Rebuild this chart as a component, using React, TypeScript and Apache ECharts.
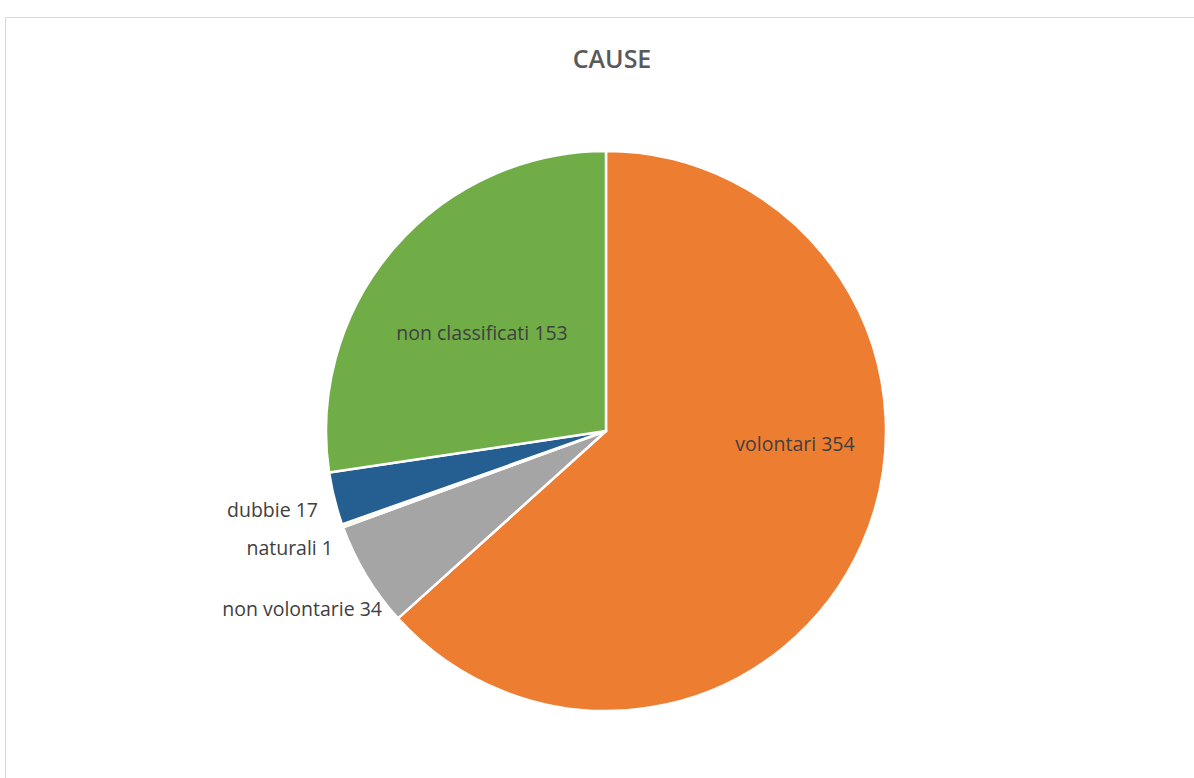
import React, { useEffect, useRef } from "react";
import * as echarts from "echarts";

const title = "CAUSE";
const categories = ["volontari", "non volontarie", "naturali", "dubbie", "non classificati"];
const values = [354, 34, 1, 17, 153];
const colors = ["#ED7D31", "#A5A5A5", "#FFE699", "#255E91", "#70AD47"];
// label anchor (x, y, align) per slice, in page pixels
const labelAnchors: [number, number, string][] = [
  [795, 443, "center"],
  [382, 608, "right"],
  [333, 547, "right"],
  [318, 509, "right"],
  [482, 332, "center"],
];

export default function App() {
  const ref = useRef<HTMLDivElement>(null);
  useEffect(() => {
    document.body.style.margin = "0";
    const chart = echarts.init(ref.current!, null, { renderer: "svg" });
    chart.setOption({
      animation: false,
      backgroundColor: "#ffffff",
      title: {
        text: title,
        left: 607,
        top: 40,
        textAlign: "center",
        textStyle: { fontFamily: "Open Sans", fontSize: 25, fontWeight: 600, color: "#595959" },
      },
      graphic: [
        {
          type: "rect",
          shape: { x: 5.5, y: 17.5, width: 1300, height: 900 },
          style: { fill: "none", stroke: "#d9d9d9", lineWidth: 1 },
          silent: true,
        },
      ],
      series: [
        {
          type: "pie",
          center: [606, 431],
          radius: 280,
          startAngle: 90,
          clockwise: true,
          itemStyle: { borderColor: "#ffffff", borderWidth: 2.5 },
          label: {
            show: true,
            position: "inside",
            formatter: "{b} {c}",
            fontFamily: "Open Sans",
            fontSize: 19.5,
            color: "#404040",
          },
          labelLine: { show: false },
          labelLayout: (p: any) => {
            const a = labelAnchors[p.dataIndex];
            return { x: a[0], y: a[1], align: a[2], verticalAlign: "middle", hideOverlap: false };
          },
          data: categories.map((name, i) => ({
            name,
            value: values[i],
            itemStyle: { color: colors[i] },
          })),
        },
      ],
    });
    return () => chart.dispose();
  }, []);
  return <div ref={ref} style={{ width: 1194, height: 778 }} />;
}
